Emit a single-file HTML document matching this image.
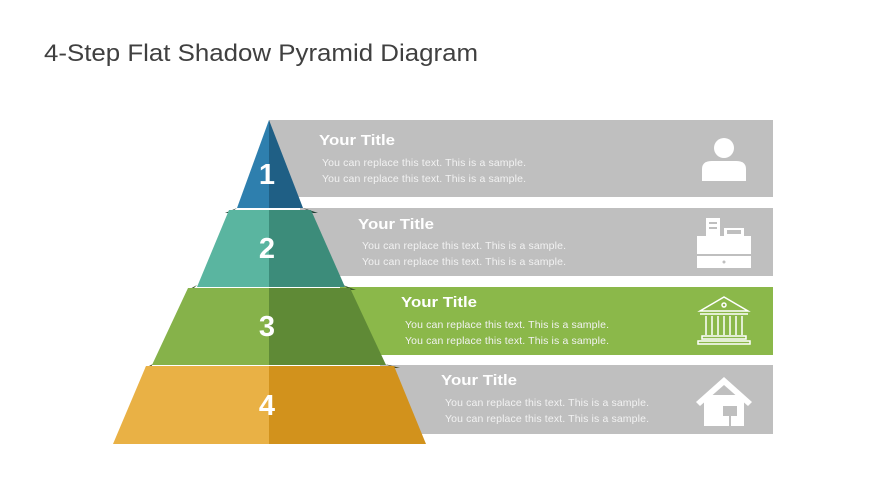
<!DOCTYPE html><html><head><style>body{margin:0;background:#fff;width:870px;height:489px;overflow:hidden;font-family:"Liberation Sans",sans-serif}</style></head><body>
<svg width="870" height="489" xmlns="http://www.w3.org/2000/svg" font-family="Liberation Sans, sans-serif">
<text x="44" y="61" font-size="24" fill="#404040" textLength="434" lengthAdjust="spacingAndGlyphs">4-Step Flat Shadow Pyramid Diagram</text>
<rect x="269" y="120" width="504" height="77" fill="#bfbfbf"/>
<rect x="300" y="208" width="473" height="68" fill="#bfbfbf"/>
<rect x="340" y="287" width="433" height="68" fill="#8bb84a"/>
<rect x="380" y="365" width="393" height="69" fill="#bfbfbf"/>
<g fill="#fff" font-size="15" font-weight="bold">
<text x="319" y="145" textLength="76" lengthAdjust="spacingAndGlyphs">Your Title</text>
<text x="358" y="229" textLength="76" lengthAdjust="spacingAndGlyphs">Your Title</text>
<text x="401" y="307" textLength="76" lengthAdjust="spacingAndGlyphs">Your Title</text>
<text x="441" y="385" textLength="76" lengthAdjust="spacingAndGlyphs">Your Title</text>
</g>
<g font-size="10.5" fill="#f2f2f2">
<text x="322" y="166" textLength="204">You can replace this text. This is a sample.</text>
<text x="322" y="182" textLength="204">You can replace this text. This is a sample.</text>
<text x="362" y="249" textLength="204">You can replace this text. This is a sample.</text>
<text x="362" y="265" textLength="204">You can replace this text. This is a sample.</text>
<text x="405" y="328" textLength="204">You can replace this text. This is a sample.</text>
<text x="405" y="344" textLength="204">You can replace this text. This is a sample.</text>
<text x="445" y="406" textLength="204">You can replace this text. This is a sample.</text>
<text x="445" y="422" textLength="204">You can replace this text. This is a sample.</text>
</g>
<polygon points="225,213 237,208 230,213" fill="#2a4a3a"/>
<polygon points="303,208 313,213 318,213" fill="#1f3f35"/>
<polygon points="188,290 197,285 192,290" fill="#3b5a2a"/>
<polygon points="343,285 350,290 356,290" fill="#3b5a2a"/>
<polygon points="145,368 153,364 150,368" fill="#4a4a20"/>
<polygon points="385,364 395,368 400,368" fill="#4a4a20"/>
<polygon points="269,120 269,208 237,208" fill="#2e7fae"/>
<polygon points="269,120 269,208 303,208" fill="#1f5f85"/>
<polygon points="229,210 269,210 269,287 197,287" fill="#5ab5a0"/>
<polygon points="269,210 311,210 345,287 269,287" fill="#3c8c7a"/>
<polygon points="188,288 269,288 269,365 152,365" fill="#86b24a"/>
<polygon points="269,288 350,288 386,365 269,365" fill="#5f8a36"/>
<polygon points="146,366 269,366 269,444 113,444" fill="#e9b145"/>
<polygon points="269,366 394,366 426,444 269,444" fill="#d2921c"/>
<g fill="#fff" font-size="29" font-weight="bold" text-anchor="middle">
<text x="267" y="184">1</text><text x="267" y="258">2</text><text x="267" y="336">3</text><text x="267" y="415">4</text>
</g>
<g fill="#fff">
<circle cx="724" cy="148" r="10"/>
<path d="M702,181 v-12 q0,-8 10,-8 h24 q10,0 10,8 v12 z"/>
<rect x="706" y="218" width="14" height="18"/><rect x="724" y="228" width="20" height="8"/>
<rect x="697" y="236" width="54" height="18"/><rect x="697" y="256" width="54" height="12"/>
</g>
<g fill="#bfbfbf"><rect x="709" y="222" width="8" height="2"/><rect x="709" y="227" width="8" height="2"/><rect x="727" y="230" width="14" height="4"/><circle cx="724" cy="262" r="1.5"/></g>
<g stroke="#fff" stroke-width="1.5" fill="none">
<polygon points="700,311 724,297 748,311"/><circle cx="724" cy="305" r="2"/>
<line x1="700" y1="314" x2="748" y2="314"/>
<path d="M706,316v19M712,316v19M718,316v19M724,316v19M730,316v19M736,316v19M742,316v19"/>
<rect x="702" y="336" width="44" height="3"/><rect x="698" y="341" width="52" height="3"/>
</g>
<g fill="#fff">
<polygon points="696,402 724,377 752,402 748,406 724,385 700,406"/>
<rect x="704" y="395" width="40" height="31"/>
</g>
<rect x="723" y="406" width="14" height="10" fill="#bfbfbf"/><rect x="729" y="416" width="2" height="10" fill="#bfbfbf"/>
</svg>
</body></html>
